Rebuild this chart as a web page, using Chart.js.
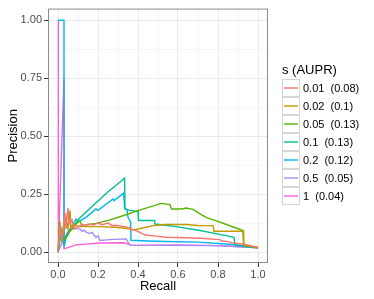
<!DOCTYPE html>
<html>
<head>
<meta charset="utf-8">
<script src="https://cdn.jsdelivr.net/npm/chart.js@4.4.1/dist/chart.umd.min.js"></script>
<style>
  body { margin: 0; background: #fff; }
</style>
</head>
<body>
<canvas id="prChart" width="374" height="299"></canvas>
<script>
// Series labels and colours (ggplot default hues)
const legendTitle = 's (AUPR)';
const seriesLabels = ['0.01  (0.08)', '0.02  (0.1)', '0.05  (0.13)', '0.1  (0.13)', '0.2  (0.12)', '0.5  (0.05)', '1  (0.04)'];
const seriesColors = ['#F8766D', '#C49A00', '#53B400', '#00C094', '#00B6EB', '#A58AFF', '#FB61D7'];

const xTicks = [0, 0.2, 0.4, 0.6, 0.8, 1.0];
const yTicks = [0, 0.25, 0.5, 0.75, 1.0];

// [recall, precision]
const s001 = [[0,0],[0.01,0.1],[0.02,0.05],[0.035,0.17],[0.04,0.1],[0.05,0.19],[0.055,0.12],[0.07,0.14],[0.08,0.1],[0.1,0.11],[0.12,0.12],[0.13,0.112],[0.15,0.12],[0.18,0.118],[0.2,0.125],[0.22,0.118],[0.25,0.125],[0.27,0.115],[0.3,0.115],[0.33,0.11],[0.36,0.105],[0.37,0.098],[0.39,0.093],[0.41,0.085],[0.42,0.08],[0.44,0.074],[0.5,0.068],[0.54,0.064],[0.6,0.063],[0.71,0.06],[0.81,0.054],[0.82,0.048],[0.85,0.045],[0.875,0.039],[0.92,0.035],[0.96,0.029],[1,0.019]];
const s002 = [[0,0],[0.01,0.12],[0.02,0.06],[0.04,0.15],[0.05,0.1],[0.06,0.18],[0.065,0.1],[0.08,0.12],[0.1,0.11],[0.15,0.11],[0.21,0.11],[0.28,0.107],[0.33,0.104],[0.35,0.1],[0.375,0.096],[0.425,0.104],[0.48,0.115],[0.54,0.119],[0.64,0.119],[0.7,0.115],[0.775,0.114],[0.78,0.09],[0.925,0.09],[0.93,0.03],[1,0.02]];
const s005 = [[0,0],[0.008,0.13],[0.02,0.05],[0.04,0.06],[0.06,0.09],[0.08,0.11],[0.1,0.13],[0.108,0.136],[0.12,0.115],[0.19,0.124],[0.26,0.139],[0.34,0.161],[0.4,0.179],[0.517,0.21],[0.56,0.205],[0.567,0.186],[0.62,0.186],[0.64,0.19],[0.675,0.184],[0.7,0.17],[0.74,0.15],[0.81,0.129],[0.89,0.104],[0.925,0.093],[0.928,0.03],[1,0.02]];
const s01 = [[0,0],[0.02,0.1],[0.03,0.04],[0.04,0.07],[0.06,0.09],[0.1,0.14],[0.15,0.18],[0.2,0.22],[0.25,0.26],[0.3,0.295],[0.333,0.319],[0.335,0.186],[0.36,0.18],[0.4,0.176],[0.402,0.136],[0.483,0.136],[0.485,0.121],[0.59,0.11],[0.71,0.093],[0.84,0.071],[0.88,0.064],[0.885,0.029],[1,0.019]];
const s02 = [[0,1],[0.03,1],[0.03,0.02],[0.04,0.064],[0.06,0.1],[0.09,0.143],[0.1,0.13],[0.14,0.15],[0.19,0.186],[0.2,0.18],[0.275,0.229],[0.28,0.222],[0.328,0.254],[0.333,0.19],[0.345,0.18],[0.35,0.15],[0.363,0.13],[0.365,0.051],[0.45,0.048],[0.54,0.046],[0.7,0.043],[0.875,0.033],[1,0.019]];
const s05 = [[0,0],[0.03,0.06],[0.06,0.1],[0.11,0.1],[0.12,0.09],[0.13,0.095],[0.14,0.086],[0.16,0.08],[0.17,0.085],[0.19,0.064],[0.2,0.07],[0.21,0.05],[0.26,0.054],[0.34,0.057],[0.36,0.03],[0.54,0.029],[0.8,0.028],[1,0.019]];
const s1 = [[0,0],[0,1],[0.003,0.02],[0.03,0.75],[0.03,0.014],[0.09,0.031],[0.21,0.039],[0.33,0.04],[0.37,0.029],[0.6,0.031],[0.8,0.028],[1,0.019]];

const allSeries = [s001, s002, s005, s01, s02, s05, s1];

function withMinor(major) {
    const out = [];
    for (let i = 0; i < major.length; i++) {
        out.push({ value: major[i], major: true });
        if (i < major.length - 1) out.push({ value: (major[i] + major[i + 1]) / 2, major: false });
    }
    return out;
}

// panel border like theme_bw
const panelBorder = {
    id: 'panelBorder',
    afterDraw(chart) {
        const a = chart.chartArea, c = chart.ctx;
        c.save();
        c.strokeStyle = '#8a8a8a';
        c.lineWidth = 1;
        c.strokeRect(a.left + 0.5, a.top + 0.5, a.right - a.left - 1, a.bottom - a.top - 1);
        c.restore();
    }
};

// ggplot-style legend to the right of the panel
const sideLegend = {
    id: 'sideLegend',
    afterDraw(chart) {
        const c = chart.ctx;
        const left = chart.chartArea.right + 14;
        const top = 79, key = 18;
        c.save();
        c.fillStyle = '#000';
        c.textBaseline = 'middle';
        c.font = '13px "Liberation Sans", Arial, sans-serif';
        c.fillText(legendTitle, left, 70);
        c.font = '11px "Liberation Sans", Arial, sans-serif';
        seriesLabels.forEach((lab, i) => {
            const y = top + i * key;
            c.strokeStyle = '#d6d6d6';
            c.lineWidth = 1;
            c.strokeRect(left + 0.5, y + 0.5, key - 1, key - 1);
            c.strokeStyle = seriesColors[i];
            c.lineWidth = 1.4;
            c.beginPath();
            c.moveTo(left + 2, y + key / 2);
            c.lineTo(left + key - 2, y + key / 2);
            c.stroke();
            c.fillStyle = '#000';
            c.fillText(lab, left + key + 3, y + key / 2 + 0.5);
        });
        c.restore();
    }
};

const gridColor = ctx => (ctx.tick && ctx.tick.major) ? '#ebebeb' : '#f5f5f5';
const tickColor = ctx => (ctx.tick && ctx.tick.major) ? '#333333' : 'rgba(0,0,0,0)';

new Chart(document.getElementById('prChart'), {
    type: 'scatter',
    data: {
        datasets: allSeries.map((pts, i) => ({
            label: seriesLabels[i],
            data: pts.map(p => ({ x: p[0], y: p[1] })),
            showLine: true,
            borderColor: seriesColors[i],
            borderWidth: 1.4,
            pointRadius: 0,
            tension: 0,
            fill: false
        }))
    },
    options: {
        responsive: false,
        animation: false,
        layout: { padding: { top: 6, right: 106, left: 0, bottom: 0 } },
        plugins: { legend: { display: false }, tooltip: { enabled: false } },
        scales: {
            x: {
                type: 'linear', min: -0.05, max: 1.05,
                afterBuildTicks: s => { s.ticks = withMinor(xTicks); },
                afterFit: s => { s.height = 36; },
                ticks: {
                    autoSkip: false, maxRotation: 0, padding: 1,
                    color: '#4d4d4d', font: { family: 'Liberation Sans', size: 11 },
                    callback: function (v, i, t) { return t[i].major ? v.toFixed(1) : ''; }
                },
                grid: { color: gridColor, tickColor: tickColor, tickLength: 4, drawOnChartArea: true },
                border: { display: false },
                title: { display: true, text: 'Recall', color: '#000', font: { family: 'Liberation Sans', size: 13 }, padding: { top: 0, bottom: 5 } }
            },
            y: {
                type: 'linear', min: -0.047, max: 1.05,
                afterBuildTicks: s => { s.ticks = withMinor(yTicks); },
                afterFit: s => { s.width = 48; },
                ticks: {
                    autoSkip: false, padding: 2,
                    color: '#4d4d4d', font: { family: 'Liberation Sans', size: 11 },
                    callback: function (v, i, t) { return t[i].major ? v.toFixed(2) : ''; }
                },
                grid: { color: gridColor, tickColor: tickColor, tickLength: 4 },
                border: { display: false },
                title: { display: true, text: 'Precision', color: '#000', font: { family: 'Liberation Sans', size: 13 }, padding: { top: 6, bottom: 0 } }
            }
        }
    },
    plugins: [panelBorder, sideLegend]
});
</script>
</body>
</html>
